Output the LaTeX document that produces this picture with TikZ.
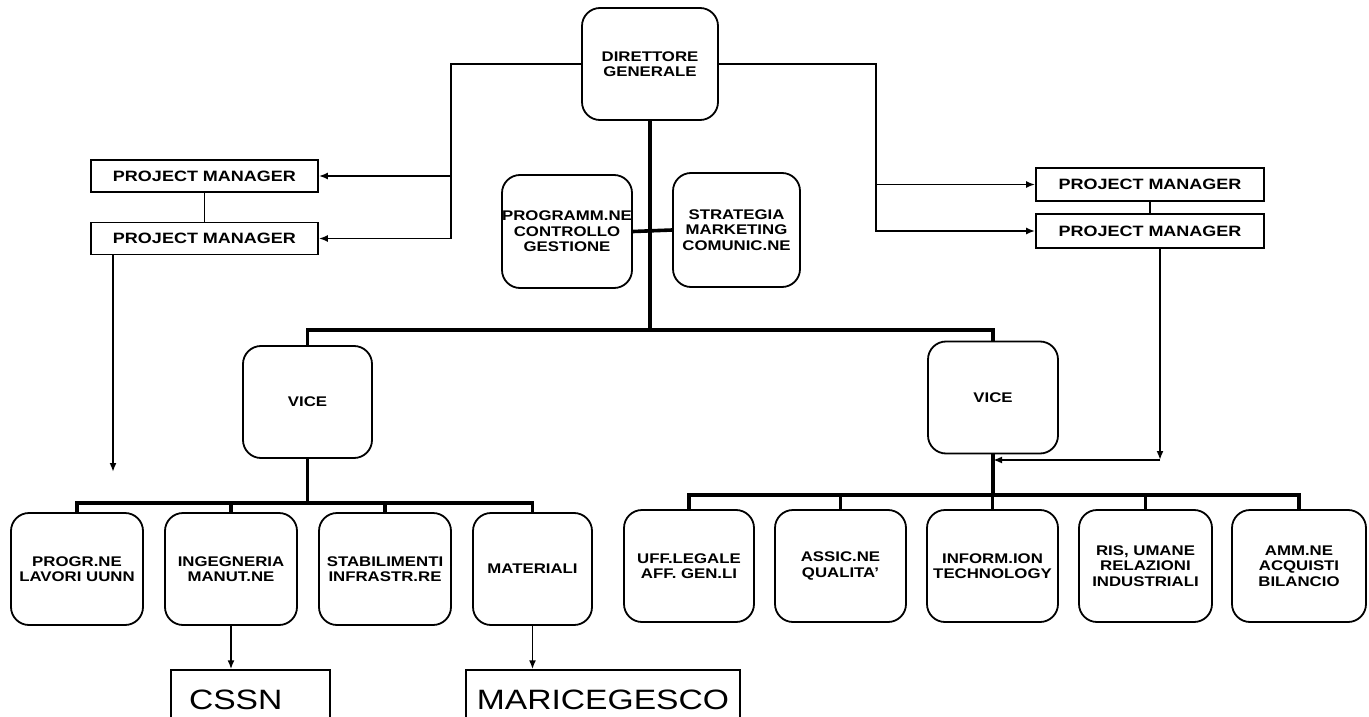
\documentclass[tikz,border=0pt]{standalone}
\usepackage{fontspec}
\setmainfont{Liberation Sans}[FakeStretch=1.2]
\usetikzlibrary{arrows.meta,calc}

\begin{document}
\begin{tikzpicture}[x=1pt,y=-1pt,
  box/.style={draw,rounded corners=18pt,line width=1.8pt,align=center,inner xsep=0pt,inner ysep=2pt,
    minimum width=130pt,minimum height=112pt,font=\bfseries\fontsize{14}{15.5}\selectfont},
  pmbox/.style={draw,line width=1.7pt,minimum width=227pt,minimum height=32pt,
    font=\bfseries\fontsize{15}{16}\selectfont},
  bigbox/.style={draw,line width=1.4pt,minimum height=60pt,font=\fontsize{28}{30}\selectfont},
  link/.style={line width=1.8pt},
  bus/.style={line width=3.6pt},
  arr/.style={link,-{Latex[length=9pt,width=7pt]}}]
  \useasboundingbox (0,0) rectangle (1369,717);
  \fill[white] (0,0) rectangle (1369,717);

  % top
  \node[box,minimum width=136pt] (DG) at (650,64) {DIRETTORE\\GENERALE};
  \node[box,minimum height=113pt] (PC) at (567,231.5) {PROGRAMM.NE\\CONTROLLO\\GESTIONE};
  \node[box,minimum width=127pt,minimum height=114pt] (SM) at (736.5,230) {STRATEGIA\\MARKETING\\COMUNIC.NE};

  \node[pmbox] (PM1) at (204.5,176) {PROJECT MANAGER};
  \node[pmbox] (PM2) at (204.5,238.5) {PROJECT MANAGER};
  \node[pmbox,minimum width=228pt,minimum height=33pt] (PM3) at (1150,184.5) {PROJECT MANAGER};
  \node[pmbox,minimum width=228pt,minimum height=34pt] (PM4) at (1150,231) {PROJECT MANAGER};

  % vice
  \node[box,minimum width=129pt] (V1) at (307.5,402) {VICE};
  \node[box] (V2) at (993,397.5) {VICE};

  % left row
  \node[box,minimum width=132pt] (PR) at (77,569) {PROGR.NE\\LAVORI UUNN};
  \node[box,minimum width=132pt] (ING) at (231,569) {INGEGNERIA\\MANUT.NE};
  \node[box,minimum width=132pt] (STAB) at (385,569) {STABILIMENTI\\INFRASTR.RE};
  \node[box,minimum width=119pt] (MAT) at (532.5,569) {MATERIALI};

  % right row
  \node[box] (UFF) at (689,566) {UFF.LEGALE\\AFF. GEN.LI};
  \node[box,minimum width=131pt] (ASS) at (840.5,566) {ASSIC.NE\\QUALITA'};
  \node[box,minimum width=131pt] (IT) at (992.5,566) {INFORM.ION\\TECHNOLOGY};
  \node[box,minimum width=133pt] (RIS) at (1145.5,566) {RIS, UMANE\\RELAZIONI\\INDUSTRIALI};
  \node[box,minimum width=134pt] (AMM) at (1299,566) {AMM.NE\\ACQUISTI\\BILANCIO};

  \node[bigbox,text width=123pt,inner xsep=18pt,align=left] (CSSN) at (250.5,700) {CSSN};
  \node[bigbox,minimum width=274pt] (MARI) at (603,700) {MARICEGESCO};

  \coordinate (LT) at (451,64);
  \coordinate (RT) at (876,64);
  \coordinate (LA) at (113,472);
  \coordinate (RA) at (1160,460);
  \coordinate (BAR) at (650,330);
  \coordinate (LB) at (0,503);
  \coordinate (RB) at (0,495);

  % project managers
  \draw[arr] (DG.west) -- (LT) |- (PM2.east);
  \draw[arr] (LT |- PM1.east) -- (PM1.east);
  \draw[arr] (DG.east) -- (RT) |- (PM4.west);
  \draw[arr] (RT |- PM3.west) -- (PM3.west);
  \draw[link] (PM1.south) -- (PM2.north);
  \draw[link] (PM3.south) -- (PM4.north);
  \draw[arr] (PM2.south -| LA) -- (LA);
  \draw[arr] (PM4.south -| RA) -- (RA);
  \draw[arr] (RA) -- (V2.south |- RA);

  % main lines
  \draw[bus] (DG.south) -- (DG.south |- BAR);
  \draw[bus] (PC.east) -- (SM.west);
  \draw[bus] (V1.north) |- (BAR) -| (V2.north);

  \draw[bus] (V1.south) -- (V1.south |- LB);
  \draw[bus] (PR.north) -- (PR.north |- LB) -- (MAT.north |- LB) -- (MAT.north);
  \foreach \n in {ING,STAB}
    \draw[bus] (\n.north) -- (\n.north |- LB);

  \draw[bus] (V2.south) -- (V2.south |- RB);
  \draw[bus] (UFF.north) -- (UFF.north |- RB) -- (AMM.north |- RB) -- (AMM.north);
  \foreach \n in {ASS,IT,RIS}
    \draw[bus] (\n.north) -- (\n.north |- RB);

  \draw[arr] (ING.south) -- (ING.south |- CSSN.north);
  \draw[arr] (MAT.south) -- (MAT.south |- MARI.north);
\end{tikzpicture}
\end{document}
